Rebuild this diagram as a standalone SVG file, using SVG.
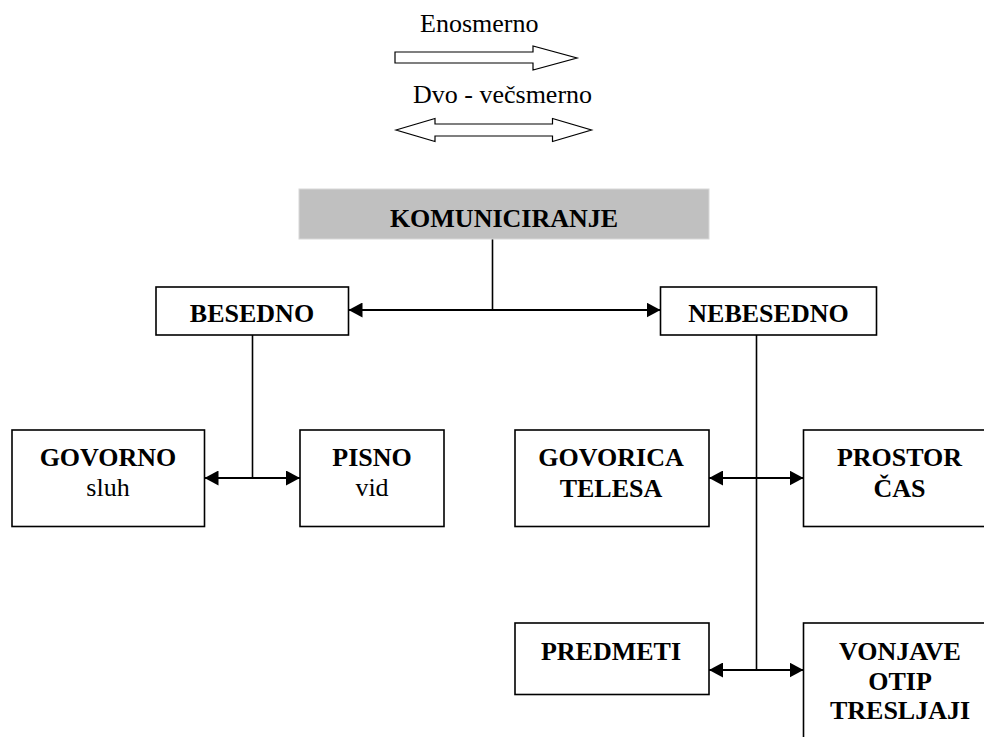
<svg xmlns="http://www.w3.org/2000/svg" width="984" height="737" viewBox="0 0 984 737">
<style>
  .box { fill: #ffffff; stroke: #000000; stroke-width: 1.6; }
  .title { fill: #c0c0c0; stroke: #d8d8d8; stroke-width: 1; }
  .lbl { font-family: "Liberation Serif", "Times New Roman", serif; font-size: 26px; fill: #000; text-anchor: middle; }
  .b { font-weight: bold; }
  .plain { font-family: "Liberation Serif", "Times New Roman", serif; font-size: 26px; fill: #000; }
  .conn { stroke: #000; fill: none; }
  .arr { stroke-width: 2.2; marker-start: url(#ah); marker-end: url(#ah); }
  .vl { stroke-width: 1.6; }
  .hollow { fill: #ffffff; stroke: #000; stroke-width: 1.2; }
</style>
<defs>
  <marker id="ah" viewBox="0 0 14 15" refX="14" refY="7.5" markerWidth="14" markerHeight="15" markerUnits="userSpaceOnUse" orient="auto-start-reverse">
    <path d="M0,0 L14,7.5 L0,15 Z" fill="#000"/>
  </marker>
</defs>
<rect width="984" height="737" fill="#ffffff"/>

<g id="legend">
  <text class="plain" x="420" y="32">Enosmerno</text>
  <polygon class="hollow" points="395,52 533,52 533,46 577,58 533,70 533,63 395,63"/>
  <text class="plain" x="413" y="103">Dvo - večsmerno</text>
  <polygon class="hollow" points="396,130 435,118.5 435,124 552.5,124 552.5,118.5 591.5,130 552.5,141.5 552.5,136 435,136 435,141.5"/>
</g>

<g id="connectors">
  <line class="conn vl" x1="492.5" y1="239" x2="492.5" y2="310"/>
  <line class="conn arr" x1="348.5" y1="310" x2="660.5" y2="310"/>
  <line class="conn vl" x1="252.5" y1="335" x2="252.5" y2="478"/>
  <line class="conn arr" x1="204.5" y1="478" x2="300" y2="478"/>
  <line class="conn vl" x1="756.5" y1="335" x2="756.5" y2="670"/>
  <line class="conn arr" x1="709" y1="478" x2="803.5" y2="478"/>
  <line class="conn arr" x1="709" y1="670" x2="803.5" y2="670"/>
</g>

<g id="komuniciranje">
  <rect class="title" x="299" y="189" width="410" height="50"/>
  <text class="lbl b" x="504" y="226.5">KOMUNICIRANJE</text>
</g>

<g id="besedno">
  <rect class="box" x="156" y="287" width="192.5" height="48"/>
  <text class="lbl b" x="252" y="321.5">BESEDNO</text>
</g>

<g id="nebesedno">
  <rect class="box" x="660.5" y="287" width="216" height="48"/>
  <text class="lbl b" x="768.5" y="321.5">NEBESEDNO</text>
</g>

<g id="govorno">
  <rect class="box" x="12" y="430" width="192.5" height="96.5"/>
  <text class="lbl b" x="108" y="465.5">GOVORNO</text>
  <text class="lbl" x="108" y="496">sluh</text>
</g>

<g id="pisno">
  <rect class="box" x="300" y="430" width="144" height="96.5"/>
  <text class="lbl b" x="372" y="465.5">PISNO</text>
  <text class="lbl" x="372" y="496">vid</text>
</g>

<g id="govorica-telesa">
  <rect class="box" x="515" y="430" width="194" height="96.5"/>
  <text class="lbl b" x="611" y="465.5">GOVORICA</text>
  <text class="lbl b" x="611" y="496.5">TELESA</text>
</g>

<g id="prostor-cas">
  <rect class="box" x="803.5" y="430" width="194" height="96.5"/>
  <text class="lbl b" x="899.5" y="465.5">PROSTOR</text>
  <text class="lbl b" x="899.5" y="496.5">ČAS</text>
</g>

<g id="predmeti">
  <rect class="box" x="515" y="623" width="194" height="71.5"/>
  <text class="lbl b" x="611" y="660">PREDMETI</text>
</g>

<g id="vonjave">
  <rect class="box" x="803.5" y="623" width="194" height="140"/>
  <text class="lbl b" x="900" y="660">VONJAVE</text>
  <text class="lbl b" x="900" y="690">OTIP</text>
  <text class="lbl b" x="900" y="718.5">TRESLJAJI</text>
</g>
</svg>
